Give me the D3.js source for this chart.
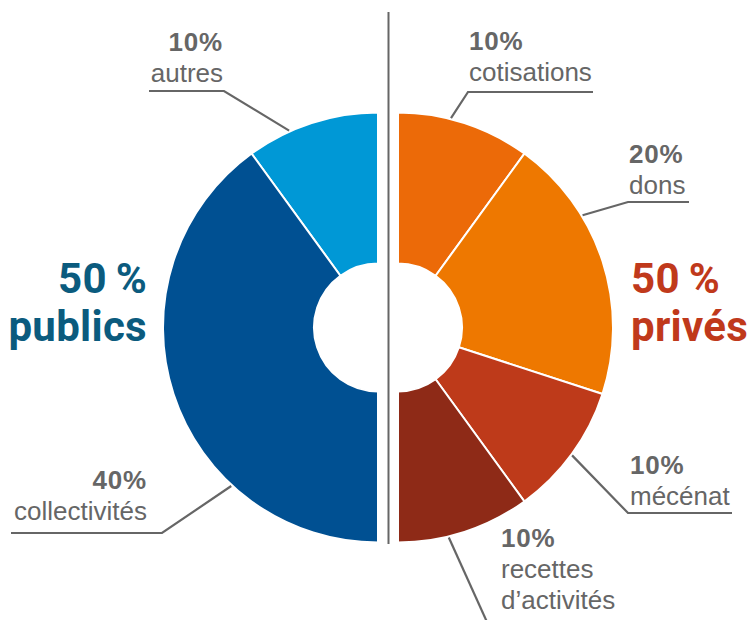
<!DOCTYPE html>
<html><head><meta charset="utf-8">
<script src="https://cdn.jsdelivr.net/npm/d3@7"></script>
<style>body{margin:0;background:#fff}svg{display:block}</style>
</head><body>
<svg id="c" width="752" height="620"></svg>
<script>
// Data
const publicCategories = ["autres", "collectivités"];
const publicValues = [10, 40];
const privateCategories = ["cotisations", "dons", "mécénat", "recettes\nd’activités"];
const privateValues = [10, 20, 10, 10];
const groupLabels = ["publics", "privés"];
const groupValues = [50, 50];

const publicColors = ["#0098D6", "#005092"];
const privateColors = ["#EC6A08", "#EE7800", "#BE3A1A", "#8E2A17"];

const svg = d3.select("#c");
const cy = 327.5, R = 215, r0 = 64;
const leftCx = 378, rightCx = 398;
const arc = d3.arc().innerRadius(r0).outerRadius(R);
const grey = "#666666";

function half(cx, cats, vals, colors, start, end) {
  const pie = d3.pie().sort(null).startAngle(start).endAngle(end);
  const arcs = pie(vals);
  const g = svg.append("g").attr("transform", `translate(${cx},${cy})`);
  g.selectAll("path").data(arcs).join("path")
    .attr("d", arc).attr("fill", (d, i) => colors[i])
    .attr("stroke", "#fff").attr("stroke-width", 2).attr("stroke-linejoin", "miter");
  return arcs;
}
half(leftCx, publicCategories, publicValues, publicColors, 0, -Math.PI);
half(rightCx, privateCategories, privateValues, privateColors, 0, Math.PI);

// divider
svg.append("line").attr("x1", 388.5).attr("x2", 388.5).attr("y1", 12).attr("y2", 544)
  .attr("stroke", grey).attr("stroke-width", 2);

// label layouts (angle in degrees clockwise from top, text anchor point, underline)
const labelLayout = [
  {side: "L", i: 0, ang: -24.3, tx: 223, ty: 51, anchor: "end", ul: [149, 224, 91]},
  {side: "L", i: 1, ang: -137.2, tx: 147, ty: 489, anchor: "end", ul: [11, 162, 533]},
  {side: "R", i: 0, ang: 14.2, tx: 469, ty: 50, anchor: "start", ul: [468, 593, 92]},
  {side: "R", i: 1, ang: 58.7, tx: 629, ty: 163, anchor: "start", ul: [628, 689, 202]},
  {side: "R", i: 2, ang: 126.3, tx: 630, ty: 474, anchor: "start", ul: [628, 732, 513]},
  {side: "R", i: 3, ang: 166.4, tx: 501, ty: 547, anchor: "start", ul: null, lineEnd: [487, 622]}
];

labelLayout.forEach(L => {
  const cx = L.side === "L" ? leftCx : rightCx;
  const cats = L.side === "L" ? publicCategories : privateCategories;
  const vals = L.side === "L" ? publicValues : privateValues;
  const a = L.ang * Math.PI / 180;
  const px = cx + (R + 1) * Math.sin(a), py = cy - (R + 1) * Math.cos(a);
  let pts;
  if (L.ul) {
    const near = L.anchor === "end" ? L.ul[1] : L.ul[0];
    const far = L.anchor === "end" ? L.ul[0] : L.ul[1];
    pts = [[px, py], [near, L.ul[2]], [far, L.ul[2]]];
  } else {
    pts = [[px, py], L.lineEnd];
  }
  svg.append("path").attr("d", d3.line()(pts)).attr("fill", "none")
    .attr("stroke", grey).attr("stroke-width", 2.2);
  const t = svg.append("text").attr("x", L.tx).attr("y", L.ty)
    .attr("text-anchor", L.anchor).attr("fill", grey)
    .attr("font-family", "Liberation Sans, Arial, sans-serif");
  t.append("tspan").attr("x", L.tx).attr("font-weight", "bold").attr("font-size", 26)
    .attr("letter-spacing", 0.8).text(vals[L.i] + "%");
  cats[L.i].split("\n").forEach((line, k) => {
    t.append("tspan").attr("x", L.tx).attr("dy", 31)
      .attr("font-size", 26).text(line);
  });
});

// big group labels
const big = [
  {x: 147, anchor: "end", color: "#0B5B7E", i: 0},
  {x: 631, anchor: "start", color: "#C0391B", i: 1}
];
big.forEach(b => {
  const t = svg.append("text").attr("text-anchor", b.anchor).attr("fill", b.color)
    .attr("font-family", "Roboto, sans-serif")
    .attr("font-weight", "bold").attr("font-size", 42).attr("letter-spacing", 0.3);
  t.append("tspan").attr("x", b.x).attr("y", 293).text(groupValues[b.i] + "\u2009%");
  t.append("tspan").attr("x", b.x).attr("y", 341).text(groupLabels[b.i]);
});
</script>
</body></html>
